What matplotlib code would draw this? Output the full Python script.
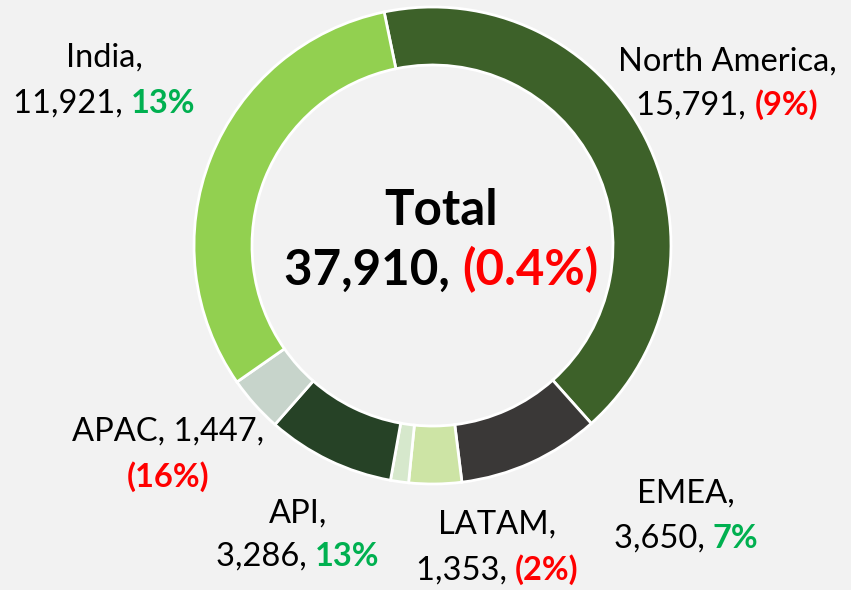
import matplotlib
matplotlib.use("Agg")
import matplotlib.pyplot as plt

# --- data ---
regions = ["North America", "EMEA", "LATAM", "Other", "API", "APAC", "India"]
values = [15791, 3650, 1353, 462, 3286, 1447, 11921]
changes = [-9, 7, -2, None, 13, -16, 13]
total_value = 37910
total_change = -0.4

colors = ["#3d6129", "#3a3837", "#cde4a5", "#d6e8cc", "#264226", "#c7d4cb", "#92d050"]
BG = "#f2f2f2"
GREEN = "#00b050"
RED = "#ff0000"
FONT = "Lato"

W, H = 851, 590
fig = plt.figure(figsize=(W / 100, H / 100), dpi=100, facecolor=BG)
ax = fig.add_axes([0, 0, 1, 1])
ax.set_facecolor(BG)

cx, cy = 432.5, H - 245.5
ax.pie(values, colors=colors, startangle=101.7, counterclock=False,
       radius=238.5, center=(cx, cy),
       wedgeprops=dict(width=58, edgecolor="white", linewidth=2))
ax.set_xlim(0, W)
ax.set_ylim(0, H)
ax.set_aspect("equal")
ax.axis("off")

renderer = fig.canvas.get_renderer()


def pct_text(v, decimals=0):
    s = f"{abs(v):.{decimals}f}%"
    if v < 0:
        return f"({s})", RED
    return s, GREEN


def put_line(x, y_img, parts, size):
    """parts: list of (string, color, bold); centred at x, baseline at y_img"""
    texts, widths = [], []
    for s, col, bold in parts:
        t = ax.text(0, H - y_img, s, color=col, fontsize=size, family=FONT,
                    fontweight="bold" if bold else "normal",
                    ha="left", va="baseline")
        widths.append(t.get_window_extent(renderer).width)
        texts.append(t)
    cur = x - sum(widths) / 2
    for t, w in zip(texts, widths):
        t.set_x(cur)
        cur += w


# label layout: (x, baseline line1, baseline line2, split after name or value)
layout = {
    "North America": (727, 71, 115, "name"),
    "EMEA": (686, 503, 548, "name"),
    "LATAM": (497, 534, 580, "name"),
    "API": (298, 523, 566, "name"),
    "APAC": (168, 441, 487, "value"),
    "India": (104, 67, 113, "name"),
}

LS = 23.5
for name, val, ch in zip(regions, values, changes):
    if name not in layout:
        continue
    x, y1, y2, split = layout[name]
    p, pc = pct_text(ch)
    if split == "name":
        put_line(x, y1, [(f"{name},", "black", False)], LS)
        put_line(x, y2, [(f"{val:,}, ", "black", False), (p, pc, True)], LS)
    else:
        put_line(x, y1, [(f"{name}, {val:,},", "black", False)], LS)
        put_line(x, y2, [(p, pc, True)], LS)

tp, tc = pct_text(total_change, 1)
put_line(441, 225, [("Total", "black", True)], 35.5)
put_line(441, 285, [(f"{total_value:,}, ", "black", True), (tp, tc, True)], 35.5)

fig.savefig("out.png", dpi=100, facecolor=BG)
